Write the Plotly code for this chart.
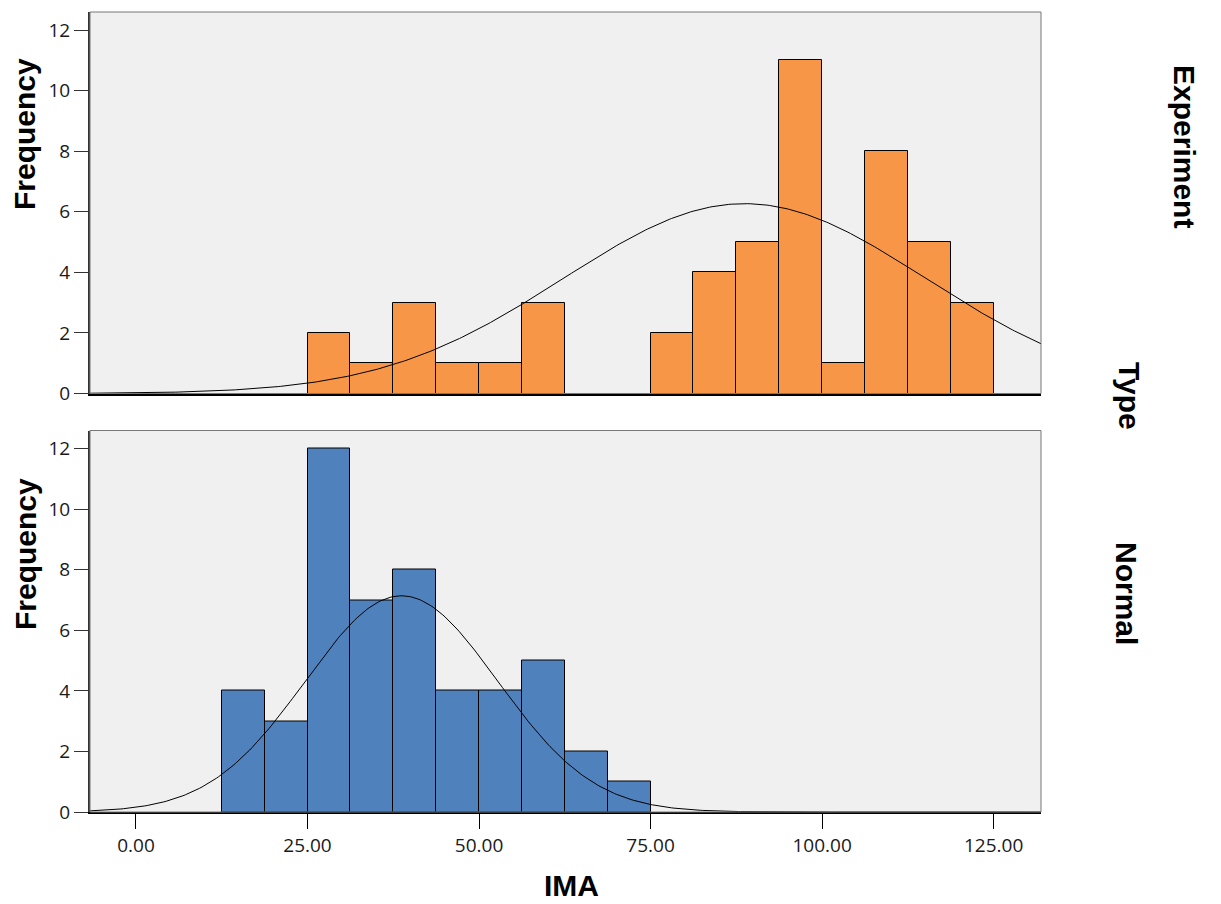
import numpy as np
import plotly.graph_objects as go
from plotly.subplots import make_subplots

# ---- data ----
bin_starts = [12.5, 18.75, 25.0, 31.25, 37.5, 43.75, 50.0, 56.25, 62.5, 68.75,
              75.0, 81.25, 87.5, 93.75, 100.0, 106.25, 112.5, 118.75]
bin_width = 6.25
experiment_counts = [0, 0, 2, 1, 3, 1, 1, 3, 0, 0, 2, 4, 5, 11, 1, 8, 5, 3]
normal_counts = [4, 3, 12, 7, 8, 4, 4, 5, 2, 1, 0, 0, 0, 0, 0, 0, 0, 0]

# fitted normal curves (mean, sd, peak height)
experiment_curve = dict(mean=88.7, sd=26.4, peak=6.27)
normal_curve = dict(mean=38.7, sd=14.0, peak=7.14)

x_ticks = [0, 25, 50, 75, 100, 125]
y_ticks = [0, 2, 4, 6, 8, 10, 12]
x_range = [-6.7, 131.9]
y_range = [0, 12.6]

ORANGE = "#F79646"
BLUE = "#4F81BD"
BG = "#F0F0F0"

# page has an 8px body margin; figure is sized to fit the window
W, H = 1213, 896
OFF = 8
ML, MR, MT, MB = 82, 180, 4, 92

fig = make_subplots(rows=2, cols=1, shared_xaxes=True, vertical_spacing=37 / 800)

centers = [b + bin_width / 2 for b in bin_starts]
xs = np.linspace(x_range[0], x_range[1], 400)

for row, counts, color, cp in [(1, experiment_counts, ORANGE, experiment_curve),
                               (2, normal_counts, BLUE, normal_curve)]:
    bx = [c for c, n in zip(centers, counts) if n > 0]
    by = [n for n in counts if n > 0]
    fig.add_trace(go.Bar(x=bx, y=by, width=bin_width,
                         marker=dict(color=color, line=dict(color="#000000", width=1)),
                         showlegend=False, hoverinfo="x+y"), row=row, col=1)
    ys = cp["peak"] * np.exp(-0.5 * ((xs - cp["mean"]) / cp["sd"]) ** 2)
    fig.add_trace(go.Scatter(x=xs, y=ys, mode="lines",
                             line=dict(color="#000000", width=1),
                             showlegend=False, hoverinfo="skip"), row=row, col=1)

tick_font = dict(family="Open Sans, Noto Sans, sans-serif", size=19, color="#1a1a1a")

for row in (1, 2):
    fig.update_xaxes(range=x_range, tickvals=x_ticks, tickformat=".2f",
                     showgrid=False, zeroline=False,
                     showline=True, linecolor="#000000", linewidth=2,
                     mirror=False, tickfont=tick_font, row=row, col=1)
    fig.update_yaxes(range=y_range, tickvals=y_ticks, showgrid=False, zeroline=False,
                     showline=True, linecolor="#333333", linewidth=2,
                     ticks="outside", ticklen=14, tickcolor="#333333", tickwidth=1,
                     tickfont=tick_font, row=row, col=1)

fig.update_xaxes(ticks="", showticklabels=False, row=1, col=1)
fig.update_xaxes(ticks="outside", ticklen=15, tickcolor="#000000", tickwidth=1,
                 showticklabels=True, row=2, col=1)

# grey frame on top/right of each panel
for yref_dom, xref_dom in [("y domain", "x domain"), ("y2 domain", "x2 domain")]:
    fig.add_shape(type="rect", xref=xref_dom, yref=yref_dom, x0=0, x1=1, y0=0, y1=1,
                  line=dict(color="#777777", width=1), layer="above")

fig.update_layout(
    width=W, height=H,
    margin=dict(l=ML, r=MR, t=MT, b=MB),
    paper_bgcolor="white", plot_bgcolor=BG,
    bargap=0,
)


def px_x(px):
    return (px - OFF - ML) / (W - ML - MR)


def px_y(py):
    return (H - MB - (py - OFF)) / (H - MT - MB)


title_font = dict(family="Liberation Sans, Arial, sans-serif", size=30, color="#000000")

labels = [
    ("<b>Frequency</b>", 25, 134, -90),
    ("<b>Frequency</b>", 25, 554, -90),
    ("<b>IMA</b>", 571, 885, 0),
    ("<b>Experiment</b>", 1185, 146, 90),
    ("<b>Type</b>", 1130, 396, 90),
    ("<b>Normal</b>", 1127, 593, 90),
]
anns = [dict(text=t, x=px_x(x), y=px_y(y), xref="paper", yref="paper",
             textangle=a, showarrow=False, font=title_font,
             xanchor="center", yanchor="middle")
        for t, x, y, a in labels]
fig.update_layout(annotations=anns)

fig.write_html("out.html")
